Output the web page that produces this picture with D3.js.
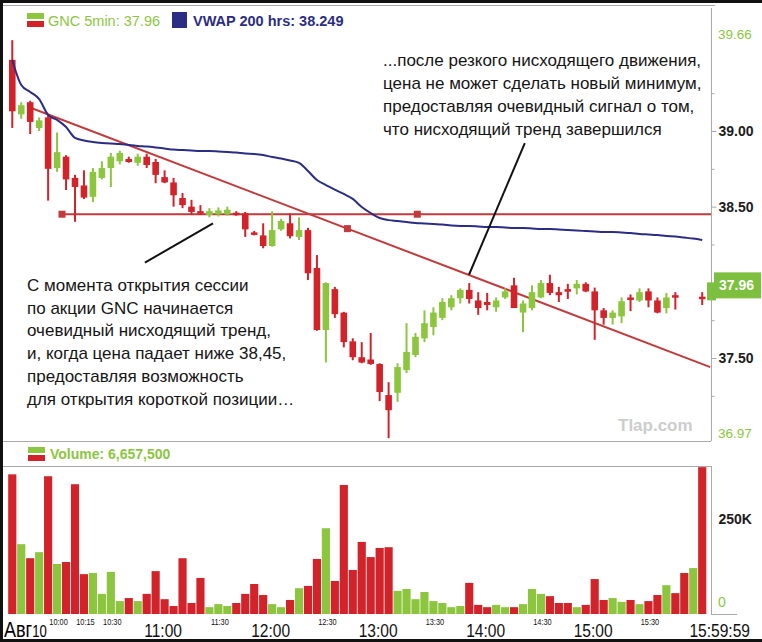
<!DOCTYPE html>
<html>
<head>
<meta charset="utf-8">
<script src="https://cdn.jsdelivr.net/npm/d3@7"></script>
<style>
  body { margin: 0; background: #fff; }
  svg { display: block; }
  text { font-family: "Liberation Sans", Arial, sans-serif; }
</style>
</head>
<body>
<svg id="chart" width="762" height="642"></svg>
<script>
// 5-min bars, 9:30 .. 15:55 (78 bars); null = no candle drawn
const opens  = [39.47,39.11,39.19,39.02,39.09,38.755,38.83,38.69,38.64,38.565,38.69,38.755,38.80,38.815,38.79,38.83,38.795,38.695,38.66,38.557,
                38.50,38.47,38.445,38.45,38.45,38.46,38.455,38.33,38.31,38.24,38.35,38.39,38.30,38.345,38.095,37.685,37.955,37.80,37.61,37.505,
                37.49,37.46,37.255,37.27,37.42,37.52,37.63,37.705,37.765,37.835,37.895,37.95,37.88,37.87,37.835,37.90,37.98,37.80,37.83,37.90,
                37.995,37.935,37.955,37.96,37.99,37.94,37.815,37.765,37.775,37.90,37.88,37.94,37.88,37.83,37.915,null,null,37.905];
const highs  = [39.60,39.19,39.20,39.09,39.11,38.99,38.84,38.71,38.74,38.755,38.80,38.855,38.87,38.83,38.85,38.85,38.815,38.74,38.69,38.59,
                38.545,38.51,38.49,38.495,38.50,38.47,38.465,38.34,38.39,38.47,38.42,38.455,38.43,38.36,38.18,38.00,37.97,37.805,37.63,37.605,
                37.665,37.465,37.34,37.465,37.73,37.665,37.815,37.835,37.895,37.915,37.96,37.995,37.935,37.93,37.90,37.96,38.03,37.88,37.98,38.015,
                38.05,37.97,37.99,38.015,38.00,37.965,37.83,37.815,37.90,37.92,37.96,37.96,37.90,37.93,37.935,null,null,37.935];
const lows   = [39.02,39.08,38.98,39.00,38.54,38.73,38.61,38.40,38.55,38.53,38.68,38.63,38.78,38.79,38.77,38.755,38.655,38.655,38.50,38.49,
                38.445,38.445,38.43,38.435,38.44,38.44,38.30,38.31,38.225,38.235,38.34,38.29,38.28,38.015,37.68,37.47,37.765,37.57,37.485,37.465,
                37.455,37.215,36.97,37.21,37.40,37.505,37.605,37.65,37.75,37.815,37.86,37.86,37.785,37.815,37.805,37.89,37.83,37.67,37.815,37.895,
                37.915,37.87,37.89,37.92,37.935,37.62,37.72,37.72,37.73,37.81,37.87,37.835,37.795,37.795,37.82,null,null,37.85];
const closes = [39.13,39.17,39.06,39.07,38.75,38.86,38.68,38.63,38.56,38.73,38.755,38.83,38.855,38.795,38.83,38.775,38.71,38.66,38.575,38.51,
                38.465,38.46,38.47,38.475,38.48,38.45,38.35,38.325,38.24,38.345,38.405,38.305,38.345,38.06,37.685,37.995,37.79,37.605,37.505,37.47,
                37.46,37.275,37.155,37.44,37.54,37.64,37.73,37.80,37.87,37.895,37.95,37.89,37.83,37.85,37.88,37.94,37.83,37.86,37.935,37.995,
                37.93,37.915,37.945,37.99,37.94,37.815,37.765,37.80,37.875,37.895,37.935,37.88,37.80,37.90,37.905,null,null,37.895];

// volume, thousands of shares
const volumesK = [368,184,147,163,363,132,137,342,105,108,53,111,34,42,34,53,113,39,21,147,
                  29,95,18,26,21,29,53,79,50,26,18,37,68,74,145,226,87,340,116,190,
                  150,174,176,61,66,39,58,34,29,18,21,82,24,18,24,18,18,26,66,53,
                  47,29,29,18,24,92,37,42,32,37,26,34,50,76,55,108,121,387];
// U = up bar (green), D = down bar (red)
const volDir = "DUDUDUDDDUUUUDUDDDDDDDUUUDDDDUUDUDDUDDDDDDDUUUUUUUUDDDUUDUUUDDDUDDDUUDUDDUDDUD".split("");

const vwap = [39.469,39.304,39.258,39.211,39.106,39.073,39.026,38.954,38.937,38.927,38.921,38.917,38.914,38.907,38.901,38.897,38.891,38.884,38.877,38.874,
              38.871,38.868,38.868,38.865,38.861,38.858,38.851,38.848,38.841,38.828,38.818,38.805,38.789,38.736,38.676,38.643,38.613,38.584,38.551,38.498,
              38.458,38.425,38.411,38.405,38.398,38.392,38.389,38.385,38.382,38.375,38.372,38.372,38.369,38.365,38.365,38.362,38.359,38.359,38.356,38.352,
              38.352,38.349,38.346,38.342,38.339,38.336,38.332,38.332,38.329,38.326,38.319,38.316,38.313,38.306,38.303,38.296,38.289,38.280];

const lastPrice = 37.96;
const vwapLast = "38.249";
const totalVolume = "6,657,500";
const priceMax = 39.66, priceMin = 36.97;
const priceTicks = [39.00, 38.50, 37.50];
const priceMinorTicks = [39.25, 38.75, 38.25, 37.75, 37.25];
const volTicks = [250000];

const hourTicks = [[18, "11:00"], [30, "12:00"], [42, "13:00"], [54, "14:00"], [66, "15:00"]];
const halfTicks = [[6, "10:00"], [9, "10:15"], [12, "10:30"], [24, "11:30"], [36, "12:30"], [48, "13:30"], [60, "14:30"], [72, "15:30"]];

// drawn support / trend lines (bar index, price)
const supportLevel = 38.45;
const supportFrom = 5.55, supportMarkers = [5.55, 45.2];
const trendFrom = [1.75, 39.16], trendTo = [77.9, 37.44];
const trendMarker = 37.4;
const pointerLeft  = [[22.4, 38.39], [14.8, 38.13]];
const pointerRight = [[57.2, 38.92], [50.97, 38.05]];

const noteLeft = ["С момента открытия сессии", "по акции GNC начинается", "очевидный нисходящий тренд,",
                  "и, когда цена падает ниже 38,45,", "предоставляя возможность", "для открытия короткой позиции…"];
const noteRight = ["...после резкого нисходящего движения,", "цена не может сделать новый минимум,",
                   "предоставляя очевидный сигнал о том,", "что нисходящий тренд завершился"];

const up = "#8cc63f", down = "#d2232a", navy = "#2b2d84", lineRed = "#c23a3c", grid = "#aaaaaa";
const axisX = 711;
const squeeze = 0.82; // condensed look of the time-axis font

const svg = d3.select("#chart");
svg.append("rect").attr("width", 762).attr("height", 642).attr("fill", "#fff");

const x = d3.scaleLinear().domain([-0.5, 77.5]).range([7.8, 706.7]);
const step = x(1) - x(0);
const y = d3.scaleLinear().domain([priceMin, priceMax]).range([438.2, 31.1]);
const yv = d3.scaleLinear().domain([0, 390000]).range([614, 466]);

// frame lines
svg.append("line").attr("x1", 0).attr("x2", axisX).attr("y1", 441.5).attr("y2", 441.5).attr("stroke", grid);
svg.append("line").attr("x1", 0).attr("x2", axisX).attr("y1", 466.5).attr("y2", 466.5).attr("stroke", grid);
svg.append("line").attr("x1", 0).attr("x2", axisX + 4).attr("y1", 5.5).attr("y2", 5.5).attr("stroke", grid);
svg.append("line").attr("x1", axisX + 0.5).attr("x2", axisX + 0.5).attr("y1", 8).attr("y2", 441).attr("stroke", grid);
svg.append("line").attr("x1", axisX + 0.5).attr("x2", axisX + 0.5).attr("y1", 466).attr("y2", 614).attr("stroke", grid);
svg.append("line").attr("x1", axisX).attr("x2", 737).attr("y1", 614.5).attr("y2", 614.5).attr("stroke", grid);

// price axis
const pAxis = svg.append("g").attr("transform", `translate(${axisX + 0.5},0)`)
  .call(d3.axisRight(y).tickValues(priceTicks).tickSize(5).tickFormat(d3.format(".2f")));
pAxis.select(".domain").remove();
pAxis.selectAll("line").attr("stroke", grid);
pAxis.selectAll("text").attr("x", 7).attr("font-size", 14).attr("font-weight", "bold").attr("fill", "#1b1b1b")
  .attr("font-family", "Liberation Sans, Arial, sans-serif");
const pMinor = svg.append("g").attr("transform", `translate(${axisX + 0.5},0)`)
  .call(d3.axisRight(y).tickValues(priceMinorTicks).tickSize(3).tickFormat(""));
pMinor.select(".domain").remove();
pMinor.selectAll("line").attr("stroke", grid);

svg.append("text").attr("x", axisX + 7).attr("y", y(priceMax) + 8).text(priceMax.toFixed(2))
  .attr("font-size", 13.5).attr("fill", up);
svg.append("text").attr("x", axisX + 7).attr("y", y(priceMin)).text(priceMin.toFixed(2))
  .attr("font-size", 13.5).attr("fill", up);

// volume axis
const vAxis = svg.append("g").attr("transform", `translate(${axisX + 0.5},0)`)
  .call(d3.axisRight(yv).tickValues(volTicks).tickSize(0).tickFormat(d => d / 1000 + "K"));
vAxis.select(".domain").remove();
vAxis.selectAll("text").attr("x", 7).attr("font-size", 14).attr("font-weight", "bold").attr("fill", "#1b1b1b")
  .attr("font-family", "Liberation Sans, Arial, sans-serif");
svg.append("text").attr("x", axisX + 7).attr("y", yv(0) - 7).text("0").attr("font-size", 14).attr("fill", up);

// watermark
svg.append("text").attr("x", 618).attr("y", 431).text("Tlap.com")
  .attr("font-size", 17).attr("font-weight", "bold").attr("fill", "#cdcdcd");

// support and trend lines
const gl = svg.append("g");
gl.append("line").attr("x1", x(supportFrom)).attr("x2", axisX).attr("y1", y(supportLevel)).attr("y2", y(supportLevel))
  .attr("stroke", lineRed).attr("stroke-width", 2);
const trendSlope = (trendTo[1] - trendFrom[1]) / (trendTo[0] - trendFrom[0]);
gl.append("line").attr("x1", x(trendFrom[0])).attr("y1", y(trendFrom[1])).attr("x2", x(trendTo[0])).attr("y2", y(trendTo[1]))
  .attr("stroke", lineRed).attr("stroke-width", 2);
const markers = supportMarkers.map(b => [b, supportLevel])
  .concat([[trendMarker, trendFrom[1] + trendSlope * (trendMarker - trendFrom[0])]]);
gl.selectAll("rect").data(markers).join("rect")
  .attr("x", d => x(d[0]) - 3.5).attr("y", d => y(d[1]) - 3.5).attr("width", 7).attr("height", 7)
  .attr("fill", lineRed);

// candles
const candles = d3.range(78).filter(i => opens[i] != null)
  .map(i => ({ i, o: opens[i], h: highs[i], l: lows[i], c: closes[i] }));
const gc = svg.append("g");
gc.selectAll("line").data(candles).join("line")
  .attr("x1", d => x(d.i)).attr("x2", d => x(d.i))
  .attr("y1", d => y(d.h)).attr("y2", d => y(d.l))
  .attr("stroke", d => d.c >= d.o ? up : down).attr("stroke-width", 2);
gc.selectAll("rect").data(candles).join("rect")
  .attr("x", d => x(d.i) - 3.3).attr("width", 6.6)
  .attr("y", d => y(Math.max(d.o, d.c)))
  .attr("height", d => Math.max(2.5, Math.abs(y(d.o) - y(d.c))))
  .attr("fill", d => d.c >= d.o ? up : down);

// vwap
svg.append("path").datum(vwap)
  .attr("fill", "none").attr("stroke", navy).attr("stroke-width", 2)
  .attr("d", d3.line().x((d, i) => x(i)).y(d => y(d)).curve(d3.curveMonotoneX));

// last price tag
const yl = y(lastPrice);
svg.append("rect").attr("x", axisX - 4).attr("y", yl - 6).attr("width", 9).attr("height", 18).attr("fill", "#7dbf3e");
svg.append("rect").attr("x", axisX + 3).attr("y", yl - 16).attr("width", 47).attr("height", 26).attr("fill", "#7dbf3e");
svg.append("text").attr("x", axisX + 8).attr("y", yl + 2).text(lastPrice.toFixed(2))
  .attr("font-size", 14).attr("font-weight", "bold").attr("fill", "#fff");

// volume bars
svg.append("g").selectAll("rect").data(volumesK).join("rect")
  .attr("x", (d, i) => x(i) - step / 2 + 0.4).attr("width", step - 0.8)
  .attr("y", d => yv(d * 1000)).attr("height", d => yv(0) - yv(d * 1000))
  .attr("fill", (d, i) => volDir[i] === "U" ? up : down);

// legends
function legendIcon(g, lx, ly) {
  g.append("rect").attr("x", lx).attr("y", ly).attr("width", 17).attr("height", 6).attr("fill", up);
  g.append("rect").attr("x", lx).attr("y", ly + 8).attr("width", 17).attr("height", 6).attr("fill", down);
}
legendIcon(svg, 27, 13);
svg.append("text").attr("x", 48).attr("y", 26).text("GNC 5min: " + lastPrice.toFixed(2))
  .attr("font-size", 14.5).attr("fill", up);
svg.append("rect").attr("x", 172).attr("y", 12).attr("width", 15).attr("height", 16).attr("fill", navy);
svg.append("text").attr("x", 193).attr("y", 26).text("VWAP 200 hrs: " + vwapLast)
  .attr("font-size", 14.5).attr("font-weight", "bold").attr("fill", navy);
legendIcon(svg, 28, 447);
svg.append("text").attr("x", 50).attr("y", 459).text("Volume: " + totalVolume)
  .attr("font-size", 14).attr("font-weight", "bold").attr("fill", up);

// time axis (condensed with a horizontal squeeze)
svg.append("g").selectAll("text").data(hourTicks).join("text")
  .attr("transform", d => `translate(${x(d[0] - 0.5) - 6},637) scale(${squeeze},1)`)
  .attr("text-anchor", "middle").attr("font-size", 19).attr("fill", "#111").text(d => d[1]);
svg.append("g").selectAll("text").data(halfTicks).join("text")
  .attr("transform", d => `translate(${x(d[0] - 0.5) - 3},625) scale(${squeeze},1)`)
  .attr("text-anchor", "middle").attr("font-size", 9).attr("fill", "#111").text(d => d[1]);
svg.append("text").attr("transform", `translate(750,637) scale(${squeeze},1)`).attr("text-anchor", "end")
  .attr("font-size", 19).attr("fill", "#111").text("15:59:59");
const dateLabel = svg.append("text").attr("transform", `translate(4,637) scale(${squeeze},1)`).attr("fill", "#000");
dateLabel.append("tspan").attr("font-size", 22).text("Авг");
dateLabel.append("tspan").attr("font-size", 16).text("10");

// annotations
svg.append("g").selectAll("line").data([pointerLeft, pointerRight]).join("line")
  .attr("x1", d => x(d[0][0])).attr("y1", d => y(d[0][1]))
  .attr("x2", d => x(d[1][0])).attr("y2", d => y(d[1][1]))
  .attr("stroke", "#111").attr("stroke-width", 2);

svg.append("g").selectAll("text").data(noteLeft).join("text")
  .attr("x", 27).attr("y", (d, i) => 291 + i * 22.7)
  .attr("font-size", 17).attr("fill", "#151515").text(d => d);
svg.append("g").selectAll("text").data(noteRight).join("text")
  .attr("x", 383).attr("y", (d, i) => 66 + i * 23)
  .attr("font-size", 17).attr("fill", "#151515").text(d => d);

// outer border
svg.append("path").attr("d", "M1.5,642 V1.5 H762").attr("fill", "none").attr("stroke", "#111").attr("stroke-width", 3);
svg.append("line").attr("x1", 0).attr("x2", 762).attr("y1", 640.5).attr("y2", 640.5).attr("stroke", "#111").attr("stroke-width", 3);
</script>
</body>
</html>
